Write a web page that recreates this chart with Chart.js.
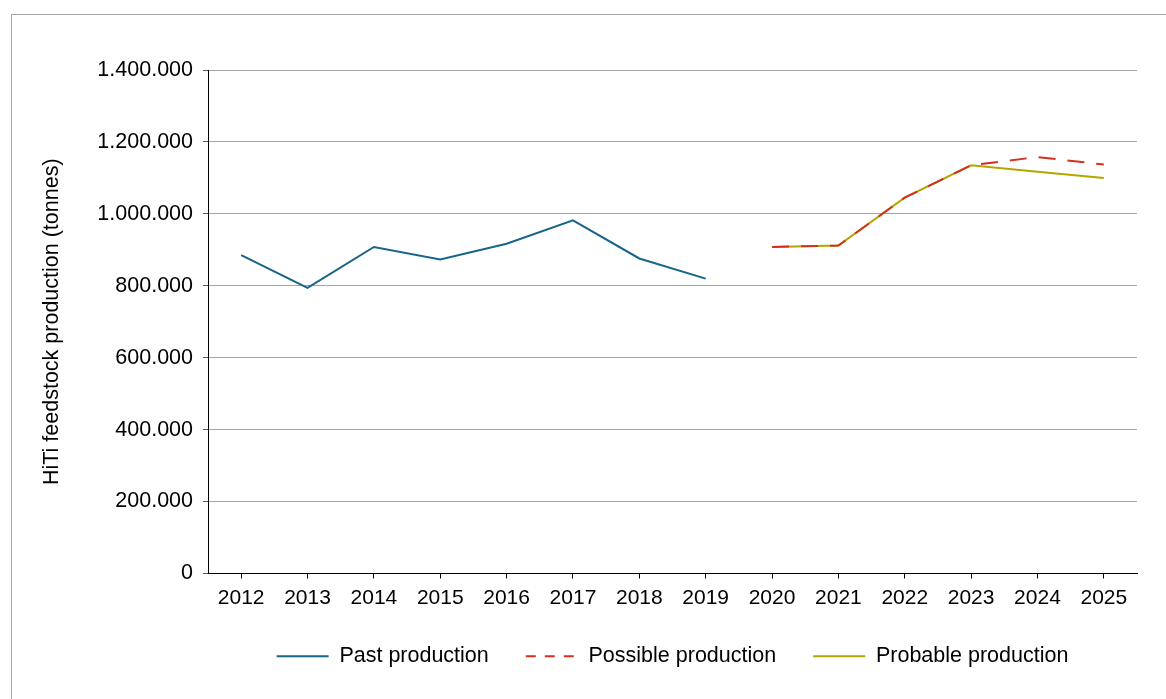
<!DOCTYPE html>
<html>
<head>
<meta charset="utf-8">
<script src="https://cdn.jsdelivr.net/npm/chart.js@4"></script>
<style>
  body { margin: 0; background: #fff; overflow: hidden; }
  #frame { position: absolute; left: 11px; top: 14px; width: 1200px; height: 720px; border: 1px solid #a6a6a6; }
  #wrap { position: absolute; left: 0; top: 0; width: 1166px; height: 699px; }
</style>
</head>
<body>
<div id="frame"></div>
<div id="wrap"><canvas id="hitiChart" width="1166" height="699"></canvas></div>
<script>
const years = ['2012', '2013', '2014', '2015', '2016', '2017', '2018', '2019',
  '2020', '2021', '2022', '2023', '2024', '2025'];
const pastProduction = [885000, 794000, 908000, 873000, 917000, 982000, 876000, 820000,
  null, null, null, null, null, null];
const possibleProduction = [null, null, null, null, null, null, null, null,
  908000, 912000, 1045000, 1135000, 1158000, 1137000];
const probableProduction = [null, null, null, null, null, null, null, null,
  908000, 912000, 1045000, 1135000, 1117000, 1100000];
const yTicks = [0, 200000, 400000, 600000, 800000, 1000000, 1200000, 1400000];

Chart.defaults.color = "#000000";
Chart.defaults.font.family = "'Liberation Sans', Arial, sans-serif";
Chart.defaults.font.size = 21;

function dotted(v) {
  return String(v).replace(/\B(?=(\d{3})+(?!\d))/g, '.');
}

// legend is centred under the plot area, not the whole canvas
const legendUnderPlot = {
  id: 'legendUnderPlot',
  afterLayout(chart) {
    chart.legend.left = chart.chartArea.left;
    chart.legend.right = chart.chartArea.right;
    chart.legend.width = chart.chartArea.right - chart.chartArea.left;
  }
};

const ctx = document.getElementById('hitiChart').getContext('2d');

const chart = new Chart(ctx, {
  type: 'line',
  data: {
    labels: years,
    datasets: [
      {
        label: "Past production",
        data: pastProduction,
        borderColor: "#17668a",
        backgroundColor: "#17668a",
        borderWidth: 2,
        pointRadius: 0,
        pointStyle: 'line',
        tension: 0,
      },
      {
        label: "Possible production",
        data: possibleProduction,
        borderColor: "#d3311f",
        backgroundColor: "#d3311f",
        borderWidth: 2,
        borderDash: [17, 12],
        pointRadius: 0,
        pointStyle: 'line',
        tension: 0,
      },
      {
        label: "Probable production",
        data: probableProduction,
        borderColor: "#b3a600",
        backgroundColor: "#b3a600",
        borderWidth: 2,
        pointRadius: 0,
        pointStyle: 'line',
        tension: 0,
      },
    ]
  },
  plugins: [legendUnderPlot],
  options: {
    animation: false,
    responsive: false,
    layout: {
      padding: { left: 35, right: 29, top: 70, bottom: 22 },
    },
    plugins: {
      tooltip: { enabled: false },
      legend: {
        position: 'bottom',
        labels: {
          usePointStyle: true,
          pointStyleWidth: 52,
          padding: 37,
          font: { size: 21.5 },
          generateLabels: (chart) => {
            const items = Chart.defaults.plugins.legend.labels.generateLabels(chart);
            items.forEach(item => {
              const ds = chart.data.datasets[item.datasetIndex];
              item.lineDash = ds.borderDash ? [10, 9] : [];
              item.lineWidth = 2;
              item.strokeStyle = ds.borderColor;
            });
            return items;
          },
        },
      },
    },
    scales: {
      x: {
        offset: true,
        grid: {
          drawOnChartArea: false,
          drawTicks: true,
          tickLength: 5,
          color: "#000000",
          offset: false,
        },
        border: { color: "#000000", width: 1 },
        ticks: { padding: 7, maxRotation: 0 },
        afterFit: (scale) => { scale.height = 35; },
      },
      y: {
        min: 0,
        max: 1400000,
        afterBuildTicks: (scale) => { scale.ticks = yTicks.map(v => ({ value: v })); },
        grid: {
          color: "#a6a6a6",
          tickColor: "#555555",
          tickLength: 5,
        },
        border: { color: "#000000", width: 1 },
        ticks: {
          padding: 10,
          font: { size: 21.5 },
          callback: (v) => dotted(v),
        },
        title: {
          display: true,
          text: "HiTi feedstock production (tonnes)",
          font: { size: 21.5 },
        },
        afterFit: (scale) => { scale.width = 173; },
      },
    }
  }
});
</script>
</body>
</html>
